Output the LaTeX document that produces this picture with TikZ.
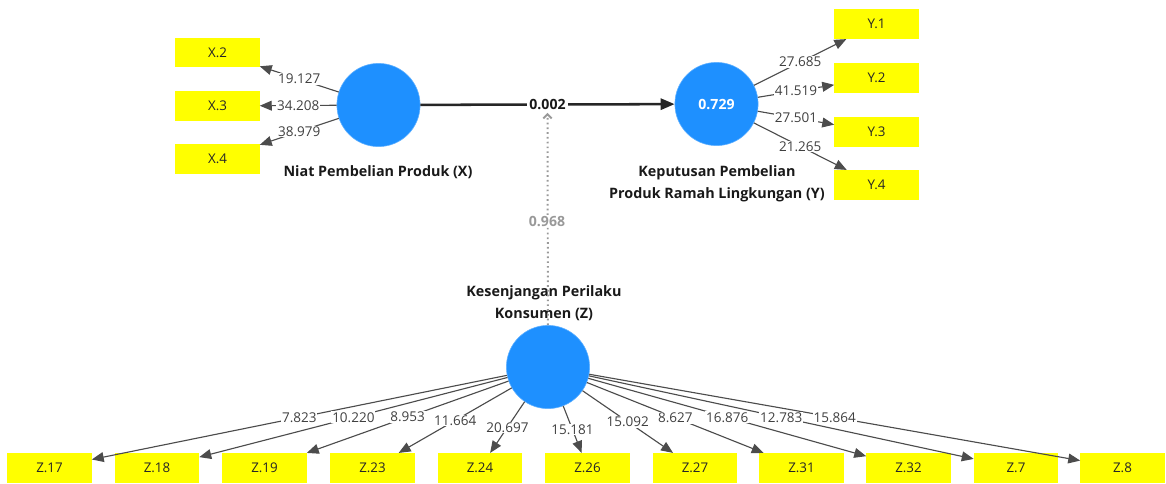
\documentclass[tikz,border=0pt]{standalone}
\usepackage{fontspec}
\setmainfont{Open Sans}
\usepackage{xcolor}
\usepackage{tikz}
\usetikzlibrary{arrows.meta,calc,positioning}

\definecolor{plsblue}{RGB}{30,144,255}
\definecolor{plsyellow}{RGB}{255,255,0}

\begin{document}
\begin{tikzpicture}[
    x=0.025cm, y=-0.025cm,
    latent/.style={circle, fill=plsblue, draw=plsblue!70, minimum size=2.08cm, inner sep=0pt},
    item/.style={fill=plsyellow, minimum width=2.1cm, minimum height=0.74cm, inner sep=0pt, font=\fontsize{9.5}{11}\selectfont, text=black!85},
    weight/.style={fill=white, inner sep=0.6pt, font=\fontsize{9.6}{11}\selectfont, text=black!75},
    latname/.style={font=\fontsize{10.2}{16}\selectfont\bfseries, align=center, text=black!90},
    arrow/.style={-{Triangle[length=8.5pt,width=7pt]}, line width=0.8pt, draw=black!70},
    pathline/.style={-{Triangle[length=10pt,width=8pt]}, line width=1.8pt, draw=black!85},
    moder/.style={-{Straight Barb[length=3pt,width=6pt]}, dash pattern=on 1.2pt off 2.2pt, line width=1.4pt, draw=black!40}
]
\useasboundingbox (0,0) rectangle (1166,483);

% latent variables
\node[latent] (x) at (378.5,105) {};
\node[latent, text=white, font=\fontsize{10}{12}\selectfont\bfseries] (y) at (716.5,104) {0.729};
\node[latent] (z) at (548,367) {};

\node[latname] (xname) at (378,172) {Niat Pembelian Produk (X)};
\node[latname] (yname) at (717,184) {Keputusan Pembelian\\Produk Ramah Lingkungan (Y)};
\node[latname] (zname) at (544,303) {Kesenjangan Perilaku\\Konsumen (Z)};

% indicators of X
\node[item] (x2) at (217.5,52.5) {X.2};
\node[item] (x3) at (217.5,106) {X.3};
\node[item] (x4) at (217.5,159) {X.4};

% indicators of Y
\node[item] (y1) at (876.5,24) {Y.1};
\node[item] (y2) at (876.5,78) {Y.2};
\node[item] (y3) at (876.5,132) {Y.3};
\node[item] (y4) at (876.5,185) {Y.4};

% indicators of Z
\node[item] (z17) at (49.5,468) {Z.17};
\node[item] (z18) at (157,468) {Z.18};
\node[item] (z19) at (264.5,468) {Z.19};
\node[item] (z23) at (372.5,468) {Z.23};
\node[item] (z24) at (480,468) {Z.24};
\node[item] (z26) at (587.5,468) {Z.26};
\node[item] (z27) at (695,468) {Z.27};
\node[item] (z31) at (801.5,468) {Z.31};
\node[item] (z32) at (908.5,468) {Z.32};
\node[item] (z7) at (1016,468) {Z.7};
\node[item] (z8) at (1122.5,468) {Z.8};

% outer loadings
\draw[arrow] (x) -- node[weight] {19.127} (x2);
\draw[arrow] (x) -- node[weight] {34.208} (x3);
\draw[arrow] (x) -- node[weight] {38.979} (x4);

\draw[arrow] (y) -- node[weight] {27.685} (y1);
\draw[arrow] (y) -- node[weight] {41.519} (y2);
\draw[arrow] (y) -- node[weight] {27.501} (y3);
\draw[arrow] (y) -- node[weight] {21.265} (y4);

\draw[arrow] (z) -- (z17);
\draw[arrow] (z) -- (z18);
\draw[arrow] (z) -- (z19);
\draw[arrow] (z) -- (z23);
\draw[arrow] (z) -- (z24);
\draw[arrow] (z) -- (z26);
\draw[arrow] (z) -- (z27);
\draw[arrow] (z) -- (z31);
\draw[arrow] (z) -- (z32);
\draw[arrow] (z) -- (z7);
\draw[arrow] (z) -- (z8);
% labels on top of all the lines
\path (z) -- node[weight] {7.823} (z17);
\path (z) -- node[weight] {10.220} (z18);
\path (z) -- node[weight] {8.953} (z19);
\path (z) -- node[weight] {11.664} (z23);
\path (z) -- node[weight] {20.697} (z24);
\path (z) -- node[weight] {15.181} (z26);
\path (z) -- node[weight] {15.092} (z27);
\path (z) -- node[weight] {8.627} (z31);
\path (z) -- node[weight] {16.876} (z32);
\path (z) -- node[weight] {12.783} (z7);
\path (z) -- node[weight] {15.864} (z8);

% inner model
\draw[pathline] (x) -- (y);
\node[weight, inner sep=2pt, font=\fontsize{10}{12}\selectfont\bfseries, text=black!90] (b) at ($(x.center)!0.5!(y.center)$) {0.002};
\draw[moder] (z) -- (b);
\node[weight, font=\fontsize{10}{12}\selectfont\bfseries, text=black!40] at (547,221) {0.968};

\end{tikzpicture}
\end{document}
